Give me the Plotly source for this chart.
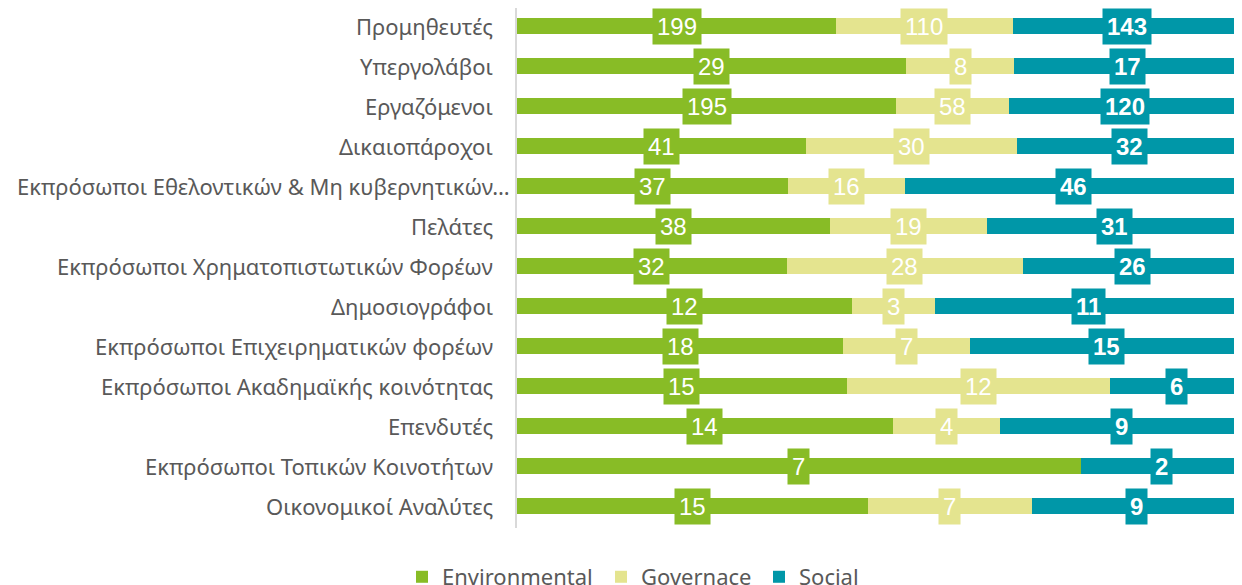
import plotly.graph_objects as go

categories = [
    "Προμηθευτές",
    "Υπεργολάβοι",
    "Εργαζόμενοι",
    "Δικαιοπάροχοι",
    "Εκπρόσωποι Εθελοντικών & Μη κυβερνητικών…",
    "Πελάτες",
    "Εκπρόσωποι Χρηματοπιστωτικών Φορέων",
    "Δημοσιογράφοι",
    "Εκπρόσωποι Επιχειρηματικών φορέων",
    "Εκπρόσωποι Ακαδημαϊκής κοινότητας",
    "Επενδυτές",
    "Εκπρόσωποι Τοπικών Κοινοτήτων",
    "Οικονομικοί Αναλύτες",
]
environmental = [199, 29, 195, 41, 37, 38, 32, 12, 18, 15, 14, 7, 15]
governance = [110, 8, 58, 30, 16, 19, 28, 3, 7, 12, 4, 0, 7]
social = [143, 17, 120, 32, 46, 31, 26, 11, 15, 6, 9, 2, 9]

series = [
    ("Environmental", environmental, "#88BC26", False, "legend"),
    ("Governace", governance, "#E4E48F", False, "legend2"),
    ("Social", social, "#0097A8", True, "legend3"),
]

totals = [e + g + s for e, g, s in zip(environmental, governance, social)]

W, H = 1234, 577

fig = go.Figure()
annotations = []
cum = [0.0] * len(categories)
for name, vals, color, bold, leg in series:
    pct = [v / t * 100 for v, t in zip(vals, totals)]
    fig.add_trace(go.Bar(
        name=name, y=categories, x=pct, orientation="h",
        marker=dict(color=color, line=dict(width=0)),
        width=0.4, hoverinfo="skip", legend=leg,
    ))
    for i, (v, p) in enumerate(zip(vals, pct)):
        if v > 0:
            txt = f"<b>{v}</b>" if bold else str(v)
            annotations.append(dict(
                x=cum[i] + p / 2, y=i, xref="x", yref="y",
                text=txt, showarrow=False, bgcolor=color,
                borderpad=4, height=27,
                font=dict(family="Liberation Sans, Arial, sans-serif",
                          size=24, color="white"),
            ))
        cum[i] += p

# category labels (right-aligned next to the axis; long truncated label sits closer)
for i, cat in enumerate(categories):
    annotations.append(dict(
        x=0, y=i, xref="paper", yref="y", xanchor="right", yanchor="middle",
        text=cat, showarrow=False,
        xshift=-5 if cat.endswith("…") else -22,
        font=dict(family="Noto Sans, sans-serif", size=22, color="#595959"),
    ))

legfont = dict(family="Noto Sans, sans-serif", size=22, color="#595959")


def leg(px):
    return dict(
        orientation="h", xref="container", yref="container",
        x=(px - 8) / W, xanchor="left", y=0.0139, yanchor="middle",
        font=legfont, itemwidth=30, bgcolor="rgba(0,0,0,0)",
    )


fig.update_layout(
    barmode="stack",
    width=W, height=H,
    margin=dict(l=509, r=0, t=0, b=57, autoexpand=False),
    paper_bgcolor="white", plot_bgcolor="white",
    annotations=annotations,
    showlegend=True,
    legend=leg(402), legend2=leg(601), legend3=leg(759),
    xaxis=dict(range=[0, 100], showgrid=False, showticklabels=False,
               zeroline=False, fixedrange=True),
    yaxis=dict(range=[12.55, -0.45], showline=True, linecolor="#D9D9D9",
               linewidth=2, ticks="", showticklabels=False, automargin=False),
)

fig.write_html("out.html")
